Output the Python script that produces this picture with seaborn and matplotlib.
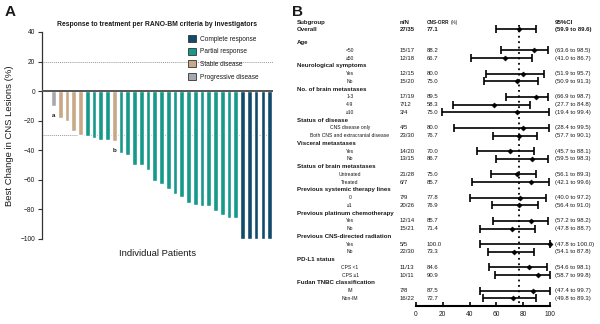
import numpy as np
import pandas as pd
import matplotlib
matplotlib.use("Agg")
import matplotlib.pyplot as plt
from matplotlib import transforms
import seaborn as sns

# ---------------- Panel A: waterfall of best change in CNS lesions ----------------
best_change = [-10, -18, -20, -27, -29.5, -30.5, -32, -33, -33, -34,
               -42, -43.5, -50, -50, -53, -61, -63, -66.5, -69.5, -71.5,
               -75.5, -77, -77.5, -77.5, -81, -83.5, -85.5, -85.5,
               -100, -100, -100, -100, -100]
best_response = (["Progressive disease"] + ["Stable disease"] * 4
                 + ["Partial response"] * 4 + ["Stable disease"]
                 + ["Partial response"] * 18 + ["Complete response"] * 5)
footnotes = {0: "a", 9: "b"}
response_order = ["Complete response", "Partial response",
                  "Stable disease", "Progressive disease"]
response_colors = ["#124a6c", "#14998b", "#c8a886", "#a6a8b0"]
waterfall_yticks = [40, 20, 0, -20, -40, -60, -80, -100]

# ---------------- Panel B: CNS-ORR by subgroup ----------------
overall_label = "Overall"
overall_n = "27/35"
overall_orr = 77.1
overall_lo = 59.9
overall_hi = 89.6

group_names = ["Age", "Neurological symptoms", "No. of brain metastases",
               "Status of disease", "Visceral metastases",
               "Status of brain metastases", "Previous systemic therapy lines",
               "Previous platinum chemotherapy", "Previous CNS-directed radiation",
               "PD-L1 status", "Fudan TNBC classification"]
row_group = [0, 0, 1, 1, 2, 2, 2, 3, 3, 4, 4, 5, 5, 6, 6, 7, 7, 8, 8, 9, 9, 10, 10]
row_labels = ["<50", "≥50", "Yes", "No", "1-3", "4-9", "≥10",
              "CNS disease only", "Both CNS and extracranial disease",
              "Yes", "No", "Untreated", "Treated", "0", "≥1",
              "Yes", "No", "Yes", "No", "CPS <1", "CPS ≥1", "IM", "Non-IM"]
row_n = ["15/17", "12/18", "12/15", "15/20", "17/19", "7/12", "3/4", "4/5", "23/30",
         "14/20", "13/15", "21/28", "6/7", "7/9", "20/26", "12/14", "15/21",
         "5/5", "22/30", "11/13", "10/11", "7/8", "16/22"]
row_orr = [88.2, 66.7, 80.0, 75.0, 89.5, 58.3, 75.0, 80.0, 76.7, 70.0, 86.7,
           75.0, 85.7, 77.8, 76.9, 85.7, 71.4, 100.0, 73.3, 84.6, 90.9, 87.5, 72.7]
row_lo = [63.6, 41.0, 51.9, 50.9, 66.9, 27.7, 19.4, 28.4, 57.7, 45.7, 59.5,
          56.1, 42.1, 40.0, 56.4, 57.2, 47.8, 47.8, 54.1, 54.6, 58.7, 47.4, 49.8]
row_hi = [98.5, 86.7, 95.7, 91.3, 98.7, 84.8, 99.4, 99.5, 90.1, 88.1, 98.3,
          89.3, 99.6, 97.2, 91.0, 98.2, 88.7, 100.0, 87.8, 98.1, 99.8, 99.7, 89.3]
forest_xticks = [0, 20, 40, 60, 80, 100]

# ---------------- style ----------------
sns.set_style("white")
plt.rcParams["font.family"] = ["Liberation Sans", "DejaVu Sans"]
TXT = "#1a1a1a"

W, H = 600, 324
fig = plt.figure(figsize=(W / 100, H / 100), dpi=100)


def fx(px):
    return px / W


def fy(py):
    return 1 - py / H


# ================= Panel A =================
axA = fig.add_axes([fx(42), fy(239), fx(273) - fx(42), fy(32) - fy(239)])
wf = pd.DataFrame({
    "patient": [f"P{i + 1:02d}" for i in range(len(best_change))],
    "change": best_change,
    "response": best_response,
})
sns.barplot(data=wf, x="patient", y="change", hue="response",
            hue_order=response_order,
            palette=dict(zip(response_order, response_colors)),
            dodge=False, width=0.7, saturation=1, ax=axA)

axA.set_xlim(-1.7, len(best_change) - 0.5)
axA.set_ylim(-100, 40)
axA.set_yticks(waterfall_yticks)
axA.set_xticks([])
axA.set_xlabel("")
axA.set_ylabel("")
for s in ["top", "right", "bottom"]:
    axA.spines[s].set_visible(False)
axA.spines["left"].set_color("#333333")
axA.spines["left"].set_linewidth(0.9)
axA.tick_params(axis="y", labelsize=4.8, length=3, width=0.8, color="#333333",
                pad=2, labelcolor=TXT, left=True)

axA.axhline(0, color="#555555", lw=1.4, zorder=3)
axA.axhline(20, color="#9a9a9a", lw=0.7, ls=(0, (1, 1)), zorder=0)
axA.axhline(-30, color="#9a9a9a", lw=0.7, ls=(0, (1, 1)), zorder=0)

for idx, mark in footnotes.items():
    axA.text(idx, best_change[idx] - 4.5, mark, ha="center", va="top",
             fontsize=4.5, fontweight="bold", color=TXT)

leg = axA.get_legend()
handles = list(leg.legend_handles)
labels = [t.get_text() for t in leg.get_texts()]
leg.remove()
new_leg = axA.legend(handles, labels, loc="upper left",
                     bbox_to_anchor=(fx(188), fy(35)), bbox_transform=fig.transFigure,
                     frameon=False, fontsize=4.7, handlelength=1.25, handleheight=1.25,
                     labelspacing=0.78, handletextpad=0.6, borderpad=0, borderaxespad=0)
for h in new_leg.legend_handles:
    h.set_edgecolor("#333333")
    h.set_linewidth(0.6)
for t in new_leg.get_texts():
    t.set_color(TXT)

fig.text(fx(157), fy(24), "Response to treatment per RANO-BM criteria by investigators",
         ha="center", va="center", fontsize=4.9, fontweight="bold", color=TXT)
fig.text(fx(10), fy(135.5), "Best Change in CNS Lesions (%)", rotation=90,
         ha="center", va="center", fontsize=6.8, color=TXT)
fig.text(fx(157.5), fy(254), "Individual Patients", ha="center", va="center",
         fontsize=6.8, color=TXT)
fig.text(fx(5), fy(12), "A", ha="left", va="center", fontsize=11,
         fontweight="bold", color=TXT)

# ================= Panel B =================
row_h = 7.75
y_top_px, y_bot_px = 22, 306
y_overall_px = 29.3
axB = fig.add_axes([fx(416), fy(y_bot_px), fx(550) - fx(416), fy(y_top_px) - fy(y_bot_px)])
axB.set_xlim(0, 100)
axB.set_ylim((y_bot_px - y_overall_px) / row_h, (y_top_px - y_overall_px) / row_h)

# row positions: overall first, then each group header followed by its subgroups
header_y = []
sub_y = []
cur = 1.73
for g in range(len(group_names)):
    header_y.append(cur)
    cur += 1
    for _ in range(row_group.count(g)):
        sub_y.append(cur)
        cur += 1

forest = pd.DataFrame({
    "label": [overall_label] + row_labels,
    "n": [overall_n] + row_n,
    "orr": [overall_orr] + row_orr,
    "lo": [overall_lo] + row_lo,
    "hi": [overall_hi] + row_hi,
    "y": [0.0] + sub_y,
})

axB.vlines(overall_orr, (25 - y_overall_px) / row_h, axB.get_ylim()[0],
           colors="black", linestyles=(0, (1, 2)), lw=1.3, zorder=1)
axB.errorbar(forest["orr"], forest["y"],
             xerr=[forest["orr"] - forest["lo"], forest["hi"] - forest["orr"]],
             fmt="none", ecolor="black", elinewidth=1.2, capsize=2.6, capthick=1.2,
             clip_on=False, zorder=3)
sns.scatterplot(data=forest, x="orr", y="y", marker="D", s=7, color="black",
                edgecolor="black", linewidth=0.3, legend=False, ax=axB,
                clip_on=False, zorder=4)
axB.set_xlabel("")
axB.set_ylabel("")
axB.set_yticks([])
axB.set_xticks(forest_xticks)
for s in ["top", "right", "left"]:
    axB.spines[s].set_visible(False)
axB.spines["bottom"].set_color("black")
axB.spines["bottom"].set_linewidth(1.5)
axB.tick_params(axis="x", direction="in", length=3, width=1.2, color="black",
                labelsize=4.8, pad=3.5, labelcolor=TXT, bottom=True)

tr = transforms.blended_transform_factory(fig.transFigure, axB.transData)
x_label, x_sub, x_n, x_orr, x_pct, x_ci = fx(297), fx(350), fx(400), fx(427), fx(451), fx(555)
hdr_y = (22.7 - y_overall_px) / row_h
fs_hdr, fs_sub, fs_num = 4.4, 3.6, 4.3

fig.text(fx(292), fy(12), "B", ha="left", va="center", fontsize=11,
         fontweight="bold", color=TXT)
axB.text(x_label, hdr_y, "Subgroup", transform=tr, ha="left", va="center",
         fontsize=fs_hdr, fontweight="bold", color=TXT)
axB.text(x_n, hdr_y, "n/N", transform=tr, ha="left", va="center",
         fontsize=fs_hdr, fontweight="bold", color=TXT)
axB.text(x_orr, hdr_y, "CNS-ORR", transform=tr, ha="left", va="center",
         fontsize=3.4, fontweight="bold", color=TXT)
axB.text(x_pct, hdr_y, "(%)", transform=tr, ha="left", va="center",
         fontsize=3.4, color=TXT)
axB.text(x_ci, hdr_y, "95%CI", transform=tr, ha="left", va="center",
         fontsize=fs_hdr, fontweight="bold", color=TXT)

for gname, gy in zip(group_names, header_y):
    axB.text(x_label, gy, gname, transform=tr, ha="left", va="center",
             fontsize=fs_hdr, fontweight="bold", color=TXT)

for i, row in forest.iterrows():
    is_overall = i == 0
    weight = "bold" if is_overall else "normal"
    if is_overall:
        axB.text(x_label, row["y"], row["label"], transform=tr, ha="left", va="center",
                 fontsize=fs_hdr, fontweight="bold", color=TXT)
    else:
        axB.text(x_sub, row["y"], row["label"], transform=tr, ha="center", va="center",
                 fontsize=fs_sub, color=TXT)
    axB.text(x_n, row["y"], row["n"], transform=tr, ha="left", va="center",
             fontsize=fs_num, fontweight=weight, color=TXT)
    axB.text(x_orr, row["y"], f"{row['orr']:.1f}", transform=tr, ha="left", va="center",
             fontsize=fs_num, fontweight=weight, color=TXT)
    axB.text(x_ci, row["y"], f"({row['lo']:.1f} to {row['hi']:.1f})", transform=tr,
             ha="left", va="center", fontsize=fs_num, fontweight=weight, color=TXT)

fig.savefig("out.png", dpi=100)
